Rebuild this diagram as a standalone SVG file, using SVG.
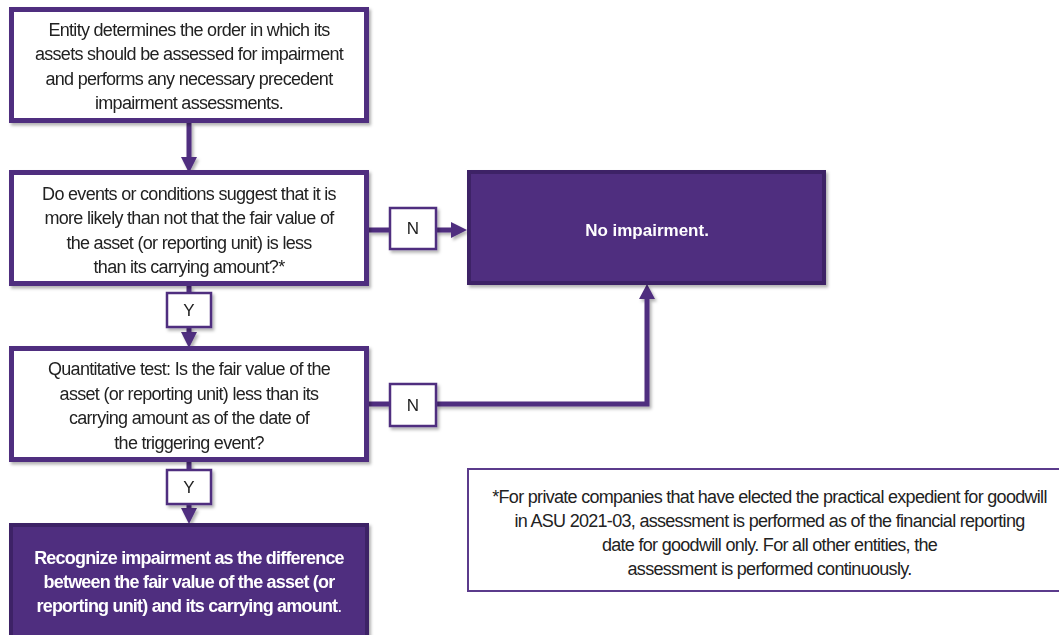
<svg xmlns="http://www.w3.org/2000/svg" width="1059" height="635" viewBox="0 0 1059 635">
  <defs>
    <filter id="shadow" x="-10%" y="-10%" width="130%" height="130%">
      <feDropShadow dx="2" dy="2.5" stdDeviation="1.5" flood-color="#000" flood-opacity="0.3"/>
    </filter>
    <style>
      .box { fill: #ffffff; stroke: #4f2d7f; stroke-width: 5; }
      .dark { fill: #4f2d7f; stroke: #3d2166; stroke-width: 4; }
      .tag { fill: #ffffff; stroke: #4f2d7f; stroke-width: 2.5; }
      .note { fill: #ffffff; stroke: #5b3b8c; stroke-width: 2; }
      .wire { fill: none; stroke: #4f2d7f; stroke-width: 5; }
      .head { fill: #4f2d7f; }
      text { font-family: "Liberation Sans", Arial, sans-serif; font-size: 18px; text-anchor: middle; }
      .t { fill: #222222; letter-spacing: -0.7px; }
      .w { fill: #ffffff; font-weight: bold; letter-spacing: -0.8px; }
      .lbl { fill: #222222; font-size: 17px; }
    </style>
  </defs>

  <!-- connectors -->
  <g id="connectors" filter="url(#shadow)">
    <line class="wire" x1="189" y1="123" x2="189" y2="158"/>
    <polygon class="head" points="181,157 197,157 189,173"/>

    <line class="wire" x1="189" y1="286" x2="189" y2="293"/>
    <line class="wire" x1="189" y1="327" x2="189" y2="333"/>
    <polygon class="head" points="181,332 197,332 189,348"/>

    <line class="wire" x1="369" y1="230" x2="390" y2="230"/>
    <line class="wire" x1="436" y1="230" x2="452" y2="230"/>
    <polygon class="head" points="451,222 451,238 467,230"/>

    <line class="wire" x1="189" y1="462" x2="189" y2="470"/>
    <line class="wire" x1="189" y1="504" x2="189" y2="509"/>
    <polygon class="head" points="181,508 197,508 189,524"/>

    <polyline class="wire" points="369,404 390,404"/>
    <polyline class="wire" points="436,404 647,404 647,298"/>
    <polygon class="head" points="639,299 655,299 647,284"/>
  </g>

  <!-- start step -->
  <g id="start" filter="url(#shadow)">
    <rect class="box" x="11.5" y="9.5" width="355" height="111"/>
    <text class="t" x="189" y="35.5">Entity determines the order in which its</text>
    <text class="t" x="189" y="59.5">assets should be assessed for impairment</text>
    <text class="t" x="189" y="84.5">and performs any necessary precedent</text>
    <text class="t" x="189" y="108.5">impairment assessments.</text>
  </g>

  <!-- qualitative question -->
  <g id="qualitative" filter="url(#shadow)">
    <rect class="box" x="11.5" y="172.5" width="355" height="111"/>
    <text class="t" x="189" y="199.5">Do events or conditions suggest that it is</text>
    <text class="t" x="189" y="223.5">more likely than not that the fair value of</text>
    <text class="t" x="189" y="248.5">the asset (or reporting unit) is less</text>
    <text class="t" x="189" y="272.5">than its carrying amount?*</text>
  </g>

  <!-- quantitative test -->
  <g id="quantitative" filter="url(#shadow)">
    <rect class="box" x="11.5" y="348.5" width="355" height="111"/>
    <text class="t" x="189" y="374.5">Quantitative test: Is the fair  value of the</text>
    <text class="t" x="189" y="399.5">asset (or reporting unit) less than its</text>
    <text class="t" x="189" y="423.5">carrying amount as of the date of</text>
    <text class="t" x="189" y="448.5">the triggering event?</text>
  </g>

  <!-- recognize impairment -->
  <g id="recognize" filter="url(#shadow)">
    <rect class="dark" x="11" y="525" width="356" height="120"/>
    <text class="w" x="189" y="563.5">Recognize impairment as the difference</text>
    <text class="w" x="189" y="587.5">between the fair value of the asset (or</text>
    <text class="w" x="189" y="611.5">reporting unit) and its carrying amount<tspan font-weight="normal">.</tspan></text>
  </g>

  <!-- no impairment -->
  <g id="no-impairment" filter="url(#shadow)">
    <rect class="dark" x="469" y="172" width="355" height="111"/>
    <text class="w" x="647" y="236" style="font-size:17px;letter-spacing:0">No impairment.</text>
  </g>

  <!-- Y / N labels -->
  <g id="label-n1" filter="url(#shadow)">
    <rect class="tag" x="390" y="208" width="46" height="41"/>
    <text class="lbl" x="413" y="234">N</text>
  </g>
  <g id="label-y1" filter="url(#shadow)">
    <rect class="tag" x="167" y="293" width="44" height="34"/>
    <text class="lbl" x="189" y="316">Y</text>
  </g>
  <g id="label-n2" filter="url(#shadow)">
    <rect class="tag" x="390" y="384" width="46" height="42"/>
    <text class="lbl" x="413" y="411">N</text>
  </g>
  <g id="label-y2" filter="url(#shadow)">
    <rect class="tag" x="167" y="470" width="44" height="34"/>
    <text class="lbl" x="189" y="493">Y</text>
  </g>

  <!-- footnote -->
  <g id="footnote">
    <rect class="note" x="468" y="469" width="600" height="122"/>
    <text class="t" x="769.5" y="502.5">*For private companies that have elected the practical expedient for goodwill</text>
    <text class="t" x="769.5" y="526.5">in ASU 2021-03, assessment is performed as of the financial reporting</text>
    <text class="t" x="769.5" y="550.5">date for goodwill only. For all other entities, the</text>
    <text class="t" x="769.5" y="574.5">assessment is performed continuously.</text>
  </g>
</svg>
